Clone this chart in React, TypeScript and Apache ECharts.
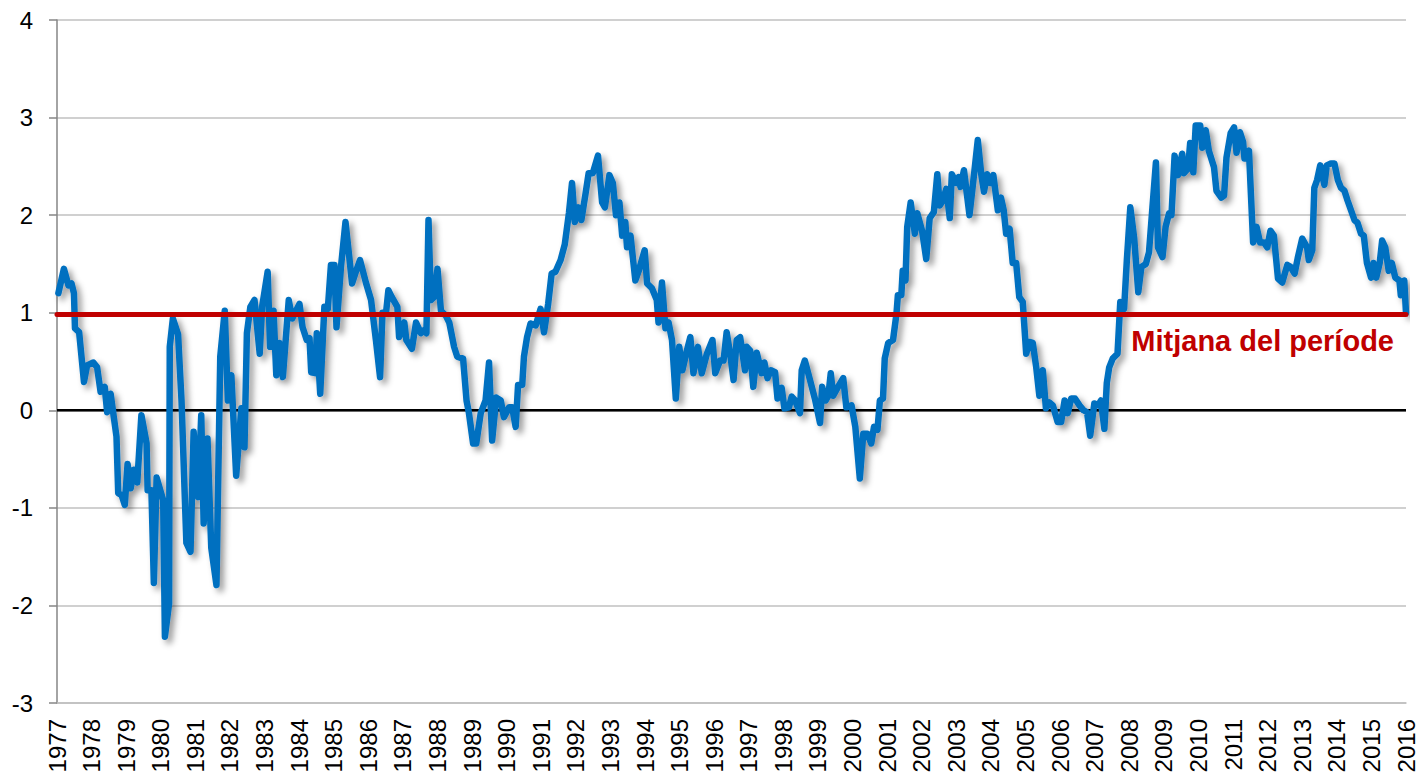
import React, { useEffect, useRef } from "react";
import * as echarts from "echarts";

const BASE_YEAR = 1977;
const LAST_YEAR = 2016;
const yAxisMin = -3;
const yAxisMax = 4;
const meanValue = 0.98;
const meanLabel = "Mitjana del període";

// time position of each reading, in years since the start of 1977
const yearsSince1977 = [
  0.04, 0.2, 0.33, 0.42, 0.49, 0.52, 0.64, 0.78, 0.87, 1.05, 1.16, 1.26, 1.38, 1.45, 1.55, 1.72, 1.77, 1.87, 1.96,
  2.04, 2.13, 2.22, 2.32, 2.44, 2.59, 2.62, 2.73, 2.8, 2.88, 3.07, 3.12, 3.24, 3.26, 3.35, 3.5, 3.6, 3.74, 3.86, 3.95,
  4.08, 4.17, 4.24, 4.35, 4.46, 4.61, 4.72, 4.85, 4.94, 5.04, 5.18, 5.33, 5.42, 5.49, 5.59, 5.71, 5.86, 5.93,
  6.09, 6.16, 6.26, 6.34, 6.43, 6.53, 6.7, 6.8, 7.01, 7.1, 7.22, 7.3, 7.35, 7.47, 7.51, 7.61, 7.73, 7.83, 7.92,
  8.02, 8.08, 8.21, 8.34, 8.45, 8.53, 8.64, 8.76, 8.93, 9.08, 9.22, 9.34, 9.41, 9.51, 9.58, 9.68, 9.84, 9.89,
  10.04, 10.1, 10.26, 10.38, 10.52, 10.61, 10.68, 10.74, 10.81, 10.9, 11.0, 11.1, 11.24, 11.34, 11.48, 11.57, 11.74,
  11.84, 11.91, 12.03, 12.12, 12.25, 12.39, 12.49, 12.58, 12.7, 12.83, 12.92, 13.07, 13.16, 13.26, 13.33, 13.45,
  13.5, 13.59, 13.69, 13.84, 13.98, 14.08, 14.2, 14.3, 14.41, 14.56, 14.68, 14.8, 14.89, 14.97, 15.07, 15.16,
  15.28, 15.37, 15.49, 15.64, 15.76, 15.84, 15.97, 16.07, 16.16, 16.26, 16.34, 16.43, 16.48, 16.58, 16.72, 16.82,
  16.99, 17.06, 17.2, 17.34, 17.39, 17.49, 17.59, 17.68, 17.78, 17.89, 17.99, 18.08, 18.21, 18.31, 18.4, 18.53,
  18.64, 18.79, 18.95, 19.03, 19.17, 19.27, 19.36, 19.46, 19.56, 19.65, 19.75, 19.89, 19.94, 20.04, 20.13, 20.23,
  20.37, 20.45, 20.54, 20.64, 20.76, 20.83, 20.95, 21.03, 21.16, 21.24, 21.34, 21.48, 21.53, 21.62, 21.77, 21.91,
  22.06, 22.12, 22.22, 22.3, 22.37, 22.44, 22.58, 22.73, 22.82, 22.97, 23.08, 23.21, 23.31, 23.43, 23.54, 23.62,
  23.72, 23.79, 23.88, 23.93, 24.03, 24.17, 24.27, 24.31, 24.41, 24.45, 24.53, 24.58, 24.68, 24.8, 24.87, 25.01,
  25.13, 25.23, 25.35, 25.45, 25.52, 25.61, 25.71, 25.81, 25.87, 26.0, 26.07, 26.12, 26.22, 26.38, 26.51, 26.62,
  26.72, 26.8, 26.89, 26.99, 27.07, 27.2, 27.29, 27.37, 27.44, 27.54, 27.63, 27.73, 27.82, 27.92, 28.02, 28.11,
  28.21, 28.31, 28.4, 28.5, 28.59, 28.69, 28.79, 28.93, 29.03, 29.13, 29.22, 29.32, 29.43, 29.56, 29.68, 29.78,
  29.87, 29.99, 30.1, 30.18, 30.28, 30.35, 30.42, 30.52, 30.66, 30.74, 30.85, 30.93, 31.03, 31.14, 31.26, 31.35,
  31.48, 31.57, 31.67, 31.77, 31.83, 31.96, 32.05, 32.15, 32.22, 32.31, 32.41, 32.53, 32.58, 32.7, 32.76, 32.85,
  32.92, 33.05, 33.11, 33.21, 33.3, 33.45, 33.52, 33.66, 33.74, 33.81, 33.93, 34.03, 34.1, 34.2, 34.29, 34.33,
  34.46, 34.58, 34.68, 34.78, 34.89, 34.99, 35.08, 35.18, 35.3, 35.42, 35.57, 35.66, 35.78, 35.87, 36.0, 36.14,
  36.19, 36.29, 36.35, 36.43, 36.52, 36.64, 36.71, 36.83, 36.93, 37.03, 37.12, 37.22, 37.31, 37.41, 37.51, 37.6,
  37.7, 37.78, 37.87, 37.99, 38.06, 38.14, 38.24, 38.31, 38.4, 38.5, 38.59, 38.69, 38.81, 38.85, 38.95, 39.0,
];

const values = [
  1.2, 1.45, 1.28, 1.3, 1.2, 0.84, 0.8, 0.29, 0.46, 0.49, 0.44, 0.19, 0.24, -0.02, 0.17, -0.27, -0.85, -0.87, -0.97,
  -0.55, -0.8, -0.61, -0.74, -0.05, -0.34, -0.82, -0.82, -1.77, -0.69, -0.92, -2.32, -1.98, 0.65, 0.94, 0.78, 0.1, -1.36, -1.45, -0.22,
  -0.89, -0.05, -1.16, -0.29, -1.41, -1.79, 0.55, 1.02, 0.1, 0.36, -0.67, 0.02, -0.38, 0.79, 1.06, 1.13, 0.58, 1.06,
  1.42, 0.65, 1.02, 0.36, 0.69, 0.34, 1.13, 0.94, 1.09, 0.85, 0.72, 0.74, 0.39, 0.38, 0.79, 0.17, 1.06, 1.04, 1.49,
  1.49, 0.85, 1.47, 1.93, 1.57, 1.3, 1.42, 1.54, 1.31, 1.13, 0.72, 0.34, 1.0, 0.99, 1.23, 1.16, 1.06, 0.75,
  0.9, 0.72, 0.63, 0.9, 0.79, 0.82, 0.79, 1.95, 1.13, 1.16, 1.45, 1.02, 0.97, 0.9, 0.65, 0.55, 0.53,
  0.1, -0.03, -0.34, -0.34, -0.03, 0.1, 0.49, -0.31, 0.13, 0.1, -0.07, 0.03, 0.03, -0.17, 0.26, 0.26,
  0.55, 0.75, 0.89, 0.87, 1.04, 0.8, 1.09, 1.4, 1.42, 1.54, 1.7, 2.02, 2.33, 1.93, 2.08, 1.95,
  2.22, 2.43, 2.43, 2.61, 2.13, 2.08, 2.41, 2.33, 2.0, 2.13, 1.79, 1.93, 1.67, 1.79, 1.33, 1.43,
  1.64, 1.3, 1.25, 1.13, 0.9, 1.31, 0.84, 0.9, 0.72, 0.12, 0.65, 0.41, 0.61, 0.75, 0.38, 0.65,
  0.38, 0.58, 0.72, 0.38, 0.51, 0.51, 0.8, 0.58, 0.31, 0.72, 0.75, 0.41, 0.65, 0.61, 0.24, 0.59,
  0.38, 0.49, 0.33, 0.41, 0.39, 0.12, 0.23, 0.02, 0.03, 0.14, 0.1, -0.03, 0.41, 0.51, 0.31, 0.12,
  -0.13, 0.24, 0.1, 0.15, 0.38, 0.15, 0.24, 0.33, 0.03, 0.05, -0.17, -0.7, -0.24, -0.24, -0.34, -0.17,
  -0.2, 0.1, 0.12, 0.53, 0.69, 0.72, 0.99, 1.18, 1.18, 1.43, 1.33, 1.88, 2.13, 1.81, 2.02, 1.84,
  1.55, 1.97, 2.03, 2.42, 2.1, 2.15, 2.27, 1.97, 2.42, 2.33, 2.39, 2.29, 2.46, 2.0, 2.41, 2.77,
  2.42, 2.24, 2.42, 2.33, 2.41, 2.05, 2.18, 2.05, 1.81, 1.86, 1.51, 1.51, 1.16, 1.11, 0.58, 0.7,
  0.69, 0.44, 0.15, 0.41, 0.02, 0.08, 0.05, -0.12, -0.12, 0.1, -0.03, 0.12, 0.12, 0.05, 0.0, -0.02,
  -0.26, 0.07, 0.05, 0.1, -0.19, 0.28, 0.44, 0.53, 0.58, 1.11, 1.04, 1.54, 2.08, 1.77, 1.21, 1.47,
  1.5, 1.62, 2.08, 2.54, 1.67, 1.57, 1.88, 2.02, 2.0, 2.61, 2.41, 2.63, 2.43, 2.48, 2.74, 2.44,
  2.92, 2.92, 2.69, 2.87, 2.66, 2.49, 2.25, 2.18, 2.2, 2.59, 2.84, 2.9, 2.64, 2.85, 2.75, 2.58,
  2.66, 1.72, 1.88, 1.72, 1.72, 1.67, 1.84, 1.79, 1.35, 1.31, 1.49, 1.47, 1.4, 1.56, 1.76, 1.67,
  1.54, 1.64, 2.28, 2.36, 2.51, 2.31, 2.51, 2.53, 2.53, 2.36, 2.28, 2.25, 2.15, 2.05, 1.95, 1.92,
  1.81, 1.79, 1.51, 1.36, 1.51, 1.36, 1.51, 1.74, 1.67, 1.43, 1.51, 1.36, 1.33, 1.18, 1.33, 1.0,
];

const FONT = "'Liberation Sans', Arial, sans-serif";

export default function App() {
  const ref = useRef<HTMLDivElement>(null);

  useEffect(() => {
    document.body.style.margin = "0";
    const chart = echarts.init(ref.current as HTMLDivElement, null, { renderer: "svg" });
    const seriesData = yearsSince1977.map((t, i) => [BASE_YEAR + t, values[i]]);

    chart.setOption({
      animation: false,
      backgroundColor: "#ffffff",
      grid: { left: 57, right: 9, top: 20, bottom: 75, containLabel: false },
      xAxis: {
        type: "value",
        min: BASE_YEAR,
        max: LAST_YEAR,
        interval: 1,
        axisLine: { show: true, onZero: false, lineStyle: { color: "#bfbfbf", width: 1.5 } },
        axisTick: { show: false },
        splitLine: { show: false },
        axisLabel: {
          rotate: 90,
          fontSize: 24,
          color: "#000",
          fontFamily: FONT,
          margin: 16,
          formatter: (v: number) => String(v),
        },
      },
      yAxis: {
        type: "value",
        min: yAxisMin,
        max: yAxisMax,
        interval: 1,
        axisLine: { show: true, onZero: false, lineStyle: { color: "#868686", width: 1.5 } },
        axisTick: { show: true, length: 8, lineStyle: { color: "#868686", width: 1.5 } },
        splitLine: { show: true, lineStyle: { color: "#c0c0c0", width: 1.5 } },
        axisLabel: { fontSize: 24, color: "#000", fontFamily: FONT, margin: 24 },
      },
      series: [
        {
          type: "line",
          data: [
            [BASE_YEAR, 0],
            [LAST_YEAR, 0],
          ],
          symbol: "none",
          silent: true,
          z: 1,
          lineStyle: { color: "#000000", width: 2.5 },
        },
        {
          type: "line",
          data: seriesData,
          symbol: "none",
          showSymbol: false,
          z: 2,
          lineStyle: {
            color: "#0070c0",
            width: 6.5,
            join: "round",
            cap: "round",
            shadowColor: "rgba(0,0,0,0.4)",
            shadowBlur: 6,
            shadowOffsetX: 4,
            shadowOffsetY: 4,
          },
          markLine: {
            silent: true,
            symbol: ["none", "none"],
            data: [{ yAxis: meanValue }],
            lineStyle: { color: "#c00000", width: 5, type: "solid", cap: "round" },
            label: {
              show: true,
              position: "insideEndBottom",
              formatter: meanLabel,
              color: "#c00000",
              fontSize: 29,
              fontWeight: "bold",
              fontFamily: FONT,
              distance: [12, 12],
            },
          },
        },
      ],
    });

    return () => chart.dispose();
  }, []);

  return <div ref={ref} style={{ width: 1418, height: 778 }} />;
}
